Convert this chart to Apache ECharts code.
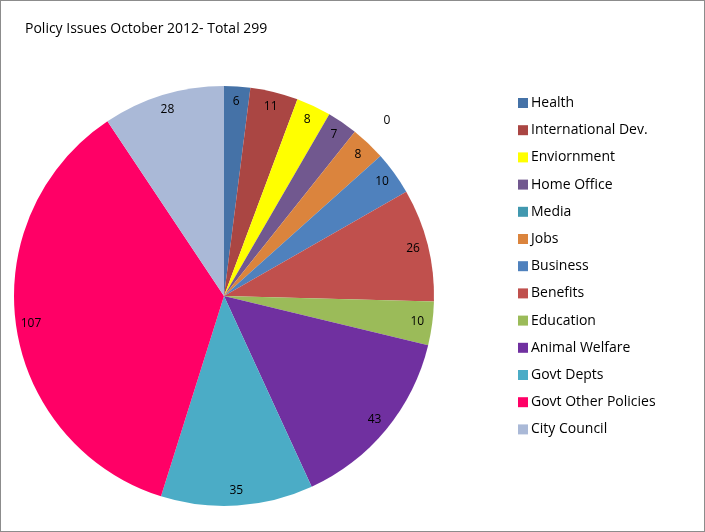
<!DOCTYPE html>
<html>
<head>
<meta charset="utf-8">
<script src="https://cdn.jsdelivr.net/npm/echarts@6/dist/echarts.min.js"></script>
<style>
  html, body { margin: 0; padding: 0; background: #fff; }
  #main { width: 703px; height: 530px; border: 1px solid #8c8c8c; }
</style>
</head>
<body>
<div id="main"></div>
<script>
// chart data
var categories = ['Health', 'International Dev.', 'Enviornment', 'Home Office', 'Media', 'Jobs',
    'Business', 'Benefits', 'Education', 'Animal Welfare', 'Govt Depts', 'Govt Other Policies', 'City Council'];
var counts = [6, 11, 8, 7, 0, 8, 10, 26, 10, 43, 35, 107, 28];
var colors = ['#4572A7', '#AA4643', '#FFFF00', '#71588F', '#4198AF', '#DB843D',
    '#4F81BD', '#C0504D', '#9BBB59', '#7030A0', '#4BACC6', '#FF0066', '#AAB9D7'];

var myChart = echarts.init(document.getElementById('main'));

var pieData = categories.map(function (name, i) {
    return { name: name, value: counts[i], itemStyle: { color: colors[i] } };
});
// label-only ring so the numbers sit near the rim
var labelData = categories.map(function (name, i) {
    var d = { name: name, value: counts[i] };
    if (counts[i] === 0) {
        d.label = { position: 'outside', distanceToLabelLine: 0, padding: [4, 0, 0, 20] };
        d.labelLine = { show: false, length: 14, length2: 0 };
    }
    return d;
});

var option = {
    backgroundColor: '#ffffff',
    animation: false,
    color: colors,
    title: {
        text: 'Policy Issues October 2012- Total 299',
        left: 19,
        top: 16,
        textStyle: { fontFamily: 'Open Sans', fontSize: 14, fontWeight: 'normal', color: '#000' }
    },
    legend: {
        orient: 'vertical',
        left: 512,
        top: 90,
        itemWidth: 10,
        itemHeight: 10,
        itemGap: 13.2,
        icon: 'rect',
        data: categories,
        textStyle: { fontFamily: 'Open Sans', fontSize: 14, color: '#000', padding: [0, 0, 0, -2] }
    },
    series: [
        {
            name: 'Policy Issues',
            type: 'pie',
            center: [223, 295],
            radius: [0, 210],
            startAngle: 90,
            clockwise: true,
            label: { show: false },
            labelLine: { show: false },
            emphasis: { disabled: true },
            data: pieData
        },
        {
            name: 'labels',
            type: 'pie',
            silent: true,
            center: [223, 295],
            radius: [174, 210],
            startAngle: 90,
            clockwise: true,
            itemStyle: { color: 'rgba(0,0,0,0)' },
            label: {
                show: true,
                position: 'inside',
                formatter: '{c}',
                color: '#000',
                fontFamily: 'Open Sans',
                fontSize: 12
            },
            labelLine: { show: false },
            emphasis: { disabled: true },
            data: labelData
        }
    ]
};

myChart.setOption(option);
</script>
</body>
</html>
